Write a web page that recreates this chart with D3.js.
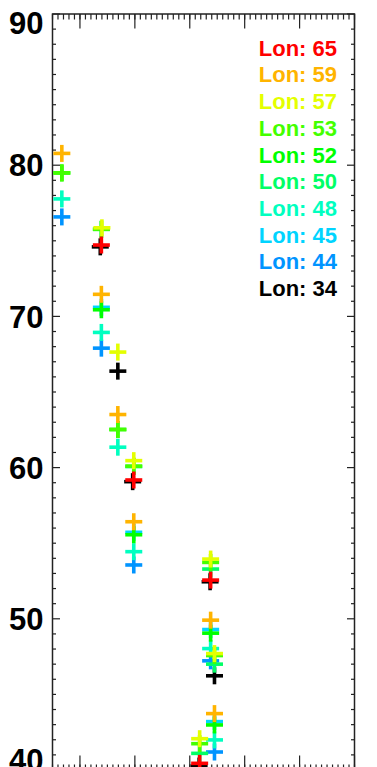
<!DOCTYPE html>
<html>
<head>
<meta charset="utf-8">
<script src="https://cdn.jsdelivr.net/npm/d3@7"></script>
<style>
  body { margin: 0; background: #fff; overflow: hidden; }
  svg { display: block; }
  text { font-family: "Liberation Sans", Arial, Helvetica, sans-serif; font-weight: bold; }
</style>
</head>
<body>
<svg width="377" height="767"></svg>
<script>
// legend / series order as in the key
var lons = [65, 59, 57, 53, 52, 50, 48, 45, 44, 34]
var colors = ['#ff0000', '#ffb400', '#e4ff00', '#44ff00', '#00ff00', '#00ff66', '#00ffc0', '#00d4ff', '#0094ff', '#000000']

// [x, latitude] per longitude
var lon65 = [[0.39, 74.72], [0.98, 59.18], [2.38, 52.56], [2.18, 40.44]]
var lon59 = [[-0.33, 80.78], [0.39, 71.46], [0.69, 63.51], [0.98, 56.42], [2.38, 49.91], [2.45, 43.73]]
var lon57 = [[0.40, 75.86], [0.69, 67.64], [0.98, 60.46], [2.38, 53.95], [2.45, 47.7], [2.18, 42.07]]
var lon53 = [[-0.33, 79.49], [0.39, 75.76], [0.69, 62.52], [0.98, 60.1], [2.38, 53.73], [2.45, 47.57], [2.18, 41.74]]
var lon52 = [[-0.33, 79.49], [0.39, 70.44], [0.69, 62.52], [0.98, 55.56], [2.38, 49.05], [2.45, 42.98]]
var lon50 = [[0.39, 75.76], [0.98, 60.07], [2.38, 53.29], [2.45, 47.0], [2.18, 41.1]]
var lon48 = [[-0.33, 77.77], [0.39, 68.94], [0.69, 61.35], [0.98, 54.44], [2.38, 48.03], [2.45, 41.99]]
var lon45 = [[0.39, 70.6], [0.98, 55.72], [2.38, 49.29], [2.45, 43.2]]
var lon44 = [[-0.33, 76.58], [0.39, 67.9], [0.98, 53.56], [2.38, 47.22], [2.45, 41.19]]
var lon34 = [[0.37, 74.6], [0.69, 66.38], [0.96, 59.07], [2.37, 52.45], [2.45, 46.23], [2.17, 40.26]]
var seriesVals = [lon65, lon59, lon57, lon53, lon52, lon50, lon48, lon45, lon44, lon34]

var yTicks = [40, 50, 60, 70, 80, 90]

var svg = d3.select('svg')
var pLeft = 52.5, pRight = 354.5, pTop = 14, pBottom = 770

var x = d3.scaleLinear().domain([-0.5, 5]).range([pLeft, pRight])
var y = d3.scaleLinear().domain([40, 90]).range([pBottom, pTop])

var axisCol = '#222'

// frame
svg.append('rect')
  .attr('x', pLeft).attr('y', pTop)
  .attr('width', pRight - pLeft).attr('height', pBottom - pTop)
  .attr('fill', 'none').attr('stroke', axisCol).attr('stroke-width', 1.5)

// x ticks, top (down) and bottom (up)
var xMinor = d3.range(-5, 51).map(function(d) { return d / 10 })
var xMajor = d3.range(0, 6)
function xTickG(yPos, dir) {
  var g = svg.append('g').attr('stroke', axisCol).attr('stroke-width', 1.2)
  g.selectAll('.mn').data(xMinor).enter().append('line')
    .attr('x1', function(d) { return x(d) }).attr('x2', function(d) { return x(d) })
    .attr('y1', yPos).attr('y2', yPos + dir * 5.5)
  g.selectAll('.mj').data(xMajor).enter().append('line')
    .attr('x1', function(d) { return x(d) }).attr('x2', function(d) { return x(d) })
    .attr('y1', yPos).attr('y2', yPos + dir * 14.5)
}
xTickG(pTop, 1)
xTickG(pBottom, -1)

// y ticks, left (right) and right (left)
var yMinor = d3.range(40, 91)
function yTickG(xPos, dir) {
  var g = svg.append('g').attr('stroke', axisCol).attr('stroke-width', 1.2)
  g.selectAll('line').data(yMinor).enter().append('line')
    .attr('y1', function(d) { return y(d) }).attr('y2', function(d) { return y(d) })
    .attr('x1', xPos).attr('x2', function(d) { return xPos + dir * (d % 10 === 0 ? 7.5 : 3.5) })
}
yTickG(pLeft, 1)
yTickG(pRight, -1)

// y labels (end labels nudged inward to stay in view)
svg.selectAll('.ylab').data(yTicks).enter().append('text')
  .attr('x', 43.5).attr('y', function(d) { return y(d) + (d === 90 ? 9 : d === 40 ? -10 : 0) })
  .attr('dy', '0.36em')
  .attr('text-anchor', 'end')
  .attr('font-size', 31)
  .attr('fill', '#000')
  .text(function(d) { return d })

// plus markers, drawn last-to-first so Lon 65 sits on top
var arm = 8.5
for (var i = seriesVals.length - 1; i >= 0; i--) {
  var g = svg.append('g').attr('stroke', colors[i]).attr('stroke-width', 3.6)
  seriesVals[i].forEach(function(p) {
    var cx = x(p[0]), cy = y(p[1])
    g.append('line').attr('x1', cx - arm).attr('x2', cx + arm).attr('y1', cy).attr('y2', cy)
    g.append('line').attr('x1', cx).attr('x2', cx).attr('y1', cy - arm).attr('y2', cy + arm)
  })
}

// legend
svg.selectAll('.leg').data(lons).enter().append('text')
  .attr('x', 337)
  .attr('y', function(d, i) { return 55.7 + i * 26.7 })
  .attr('text-anchor', 'end')
  .attr('font-size', 22)
  .attr('fill', function(d, i) { return colors[i] })
  .text(function(d) { return 'Lon: ' + d })
</script>
</body>
</html>
